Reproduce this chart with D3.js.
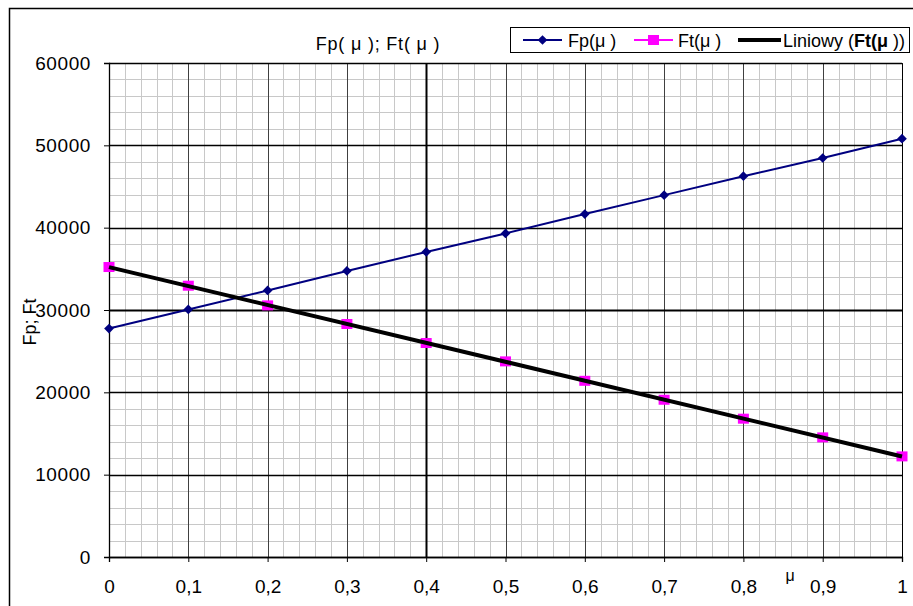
<!DOCTYPE html>
<html>
<head>
<meta charset="utf-8">
<script src="https://cdn.jsdelivr.net/npm/d3@7"></script>
<style>
  body { margin: 0; background: white; }
  text { font-family: "Liberation Sans", Arial, sans-serif; }
</style>
</head>
<body>
<div class="wrapper"></div>
<script>
const w = 913
const h = 606
const plotLeft = 109
const plotRight = 902
const plotTop = 63
const plotBottom = 557

const muValues = [0, 0.1, 0.2, 0.3, 0.4, 0.5, 0.6, 0.7, 0.8, 0.9, 1]
const fpValues = [27750, 30070, 32380, 34740, 37050, 39300, 41650, 43950, 46250, 48460, 50810]
const ftValues = [35220, 32950, 30560, 28300, 25990, 23760, 21400, 19100, 16800, 14530, 12220]
const xTicks = [0, 0.1, 0.2, 0.3, 0.4, 0.5, 0.6, 0.7, 0.8, 0.9, 1]
const yTicks = [0, 10000, 20000, 30000, 40000, 50000, 60000]

const xScale = d3.scaleLinear().domain([0, 1]).range([plotLeft, plotRight])
const yScale = d3.scaleLinear().domain([0, 60000]).range([plotBottom, plotTop])

const svg = d3.select(".wrapper")
  .append("svg")
  .attr("width", w)
  .attr("height", h)

// outer frame (only top and left edges are visible)
svg.append("path")
  .attr("d", "M9.5," + h + "V8.5H" + w)
  .attr("fill", "none")
  .attr("stroke", "black")
  .attr("stroke-width", 1.5)

// minor grid
const minorX = d3.range(0, 1.0001, 0.02)
const minorY = d3.range(0, 60001, 2000)
svg.append("g").selectAll("line")
  .data(minorX)
  .enter()
  .append("line")
  .attr("x1", (d) => Math.round(xScale(d)) + 0.5)
  .attr("x2", (d) => Math.round(xScale(d)) + 0.5)
  .attr("y1", plotTop)
  .attr("y2", plotBottom)
  .attr("stroke", "#c8c8c8")
svg.append("g").selectAll("line")
  .data(minorY)
  .enter()
  .append("line")
  .attr("x1", plotLeft)
  .attr("x2", plotRight)
  .attr("y1", (d) => Math.round(yScale(d)) + 0.5)
  .attr("y2", (d) => Math.round(yScale(d)) + 0.5)
  .attr("stroke", "#c8c8c8")

// major grid
svg.append("g").selectAll("line")
  .data(xTicks)
  .enter()
  .append("line")
  .attr("x1", (d) => Math.round(xScale(d)) + 0.5)
  .attr("x2", (d) => Math.round(xScale(d)) + 0.5)
  .attr("y1", plotTop)
  .attr("y2", plotBottom)
  .attr("stroke", (d) => d == 0.4 ? "black" : "#404040")
  .attr("stroke-width", (d) => d == 0.4 ? 2 : 1)
svg.append("g").selectAll("line")
  .data(yTicks)
  .enter()
  .append("line")
  .attr("x1", plotLeft)
  .attr("x2", plotRight)
  .attr("y1", (d) => Math.round(yScale(d)) + 0.5)
  .attr("y2", (d) => Math.round(yScale(d)) + 0.5)
  .attr("stroke", "black")
  .attr("stroke-width", (d) => d == 30000 ? 2 : 1.3)

// axes
const xAxis = d3.axisBottom(xScale)
  .tickValues(xTicks)
  .tickSize(5)
  .tickPadding(18)
  .tickFormat((d) => String(d).replace(".", ","))
const yAxis = d3.axisLeft(yScale)
  .tickValues(yTicks)
  .tickSize(5)
  .tickPadding(13)
  .tickFormat((d) => d)

svg.append("g")
  .attr("transform", "translate(0, " + plotBottom + ")")
  .call(xAxis)
  .call((g) => g.select(".domain").attr("stroke", "black").attr("stroke-width", 1.3))
  .call((g) => g.selectAll("text").attr("font-size", 19).attr("fill", "black").style("font-family", "Liberation Sans, Arial"))

svg.append("g")
  .attr("transform", "translate(" + plotLeft + ", 0)")
  .call(yAxis)
  .call((g) => g.select(".domain").attr("stroke", "black").attr("stroke-width", 1.3))
  .call((g) => g.selectAll("text").attr("font-size", 19).attr("fill", "black").attr("letter-spacing", 0.6).style("font-family", "Liberation Sans, Arial"))

// plot border top / right
svg.append("path")
  .attr("d", "M" + plotLeft + "," + (plotTop + 0.5) + "H" + (plotRight + 0.5) + "V" + plotBottom)
  .attr("fill", "none")
  .attr("stroke", "black")

// Fp series
const seriesLine = d3.line()
  .x((d, i) => xScale(muValues[i]))
  .y((d) => yScale(d))
svg.append("path")
  .datum(fpValues)
  .attr("d", seriesLine)
  .attr("fill", "none")
  .attr("stroke", "#000080")
  .attr("stroke-width", 2)
svg.append("g").selectAll("path")
  .data(fpValues)
  .enter()
  .append("path")
  .attr("d", d3.symbol(d3.symbolDiamond2, 60))
  .attr("transform", (d, i) => "translate(" + xScale(muValues[i]) + "," + yScale(d) + ")")
  .attr("fill", "#000080")

// Ft series
svg.append("path")
  .datum(ftValues)
  .attr("d", seriesLine)
  .attr("fill", "none")
  .attr("stroke", "#ff00ff")
  .attr("stroke-width", 2)
svg.append("g").selectAll("rect")
  .data(ftValues)
  .enter()
  .append("rect")
  .attr("x", (d, i) => xScale(muValues[i]) - 5.5)
  .attr("y", (d) => yScale(d) - 5)
  .attr("width", 11)
  .attr("height", 10)
  .attr("fill", "#ff00ff")

// linear trend of Ft
const mx = d3.mean(muValues)
const my = d3.mean(ftValues)
const slope = d3.sum(muValues, (m, i) => (m - mx) * (ftValues[i] - my)) / d3.sum(muValues, (m) => (m - mx) * (m - mx))
const icpt = my - slope * mx
svg.append("line")
  .attr("x1", xScale(0))
  .attr("y1", yScale(icpt))
  .attr("x2", xScale(1))
  .attr("y2", yScale(icpt + slope))
  .attr("stroke", "black")
  .attr("stroke-width", 4)

// titles
svg.append("text")
  .attr("x", 378)
  .attr("y", 50)
  .attr("text-anchor", "middle")
  .attr("font-size", 18)
  .attr("letter-spacing", 0.8)
  .text("Fp( μ ); Ft( μ )")

svg.append("text")
  .attr("transform", "translate(36, 322) rotate(-90)")
  .attr("text-anchor", "middle")
  .attr("font-size", 18)
  .text("Fp; Ft")

svg.append("text")
  .attr("x", 790)
  .attr("y", 581)
  .attr("text-anchor", "middle")
  .attr("font-size", 16)
  .text("μ")

// legend
const legend = svg.append("g")
legend.append("rect")
  .attr("x", 510.5)
  .attr("y", 27.5)
  .attr("width", 399)
  .attr("height", 25)
  .attr("fill", "white")
  .attr("stroke", "black")

legend.append("line").attr("x1", 523).attr("x2", 562).attr("y1", 40).attr("y2", 40)
  .attr("stroke", "#000080").attr("stroke-width", 2)
legend.append("path").attr("d", d3.symbol(d3.symbolDiamond2, 60))
  .attr("transform", "translate(542.5, 40)").attr("fill", "#000080")
legend.append("text").attr("x", 568).attr("y", 46.5).attr("font-size", 18).text("Fp(μ )")

legend.append("line").attr("x1", 634).attr("x2", 673).attr("y1", 40).attr("y2", 40)
  .attr("stroke", "#ff00ff").attr("stroke-width", 2)
legend.append("rect").attr("x", 648).attr("y", 35).attr("width", 11).attr("height", 10)
  .attr("fill", "#ff00ff")
legend.append("text").attr("x", 678).attr("y", 46.5).attr("font-size", 18).text("Ft(μ )")

legend.append("line").attr("x1", 738).attr("x2", 781).attr("y1", 40).attr("y2", 40)
  .attr("stroke", "black").attr("stroke-width", 4)
const lt = legend.append("text").attr("x", 783).attr("y", 46.5).attr("font-size", 18)
lt.append("tspan").text("Liniowy (")
lt.append("tspan").attr("font-weight", "bold").text("Ft(μ")
lt.append("tspan").text(" ))")
</script>
</body>
</html>
